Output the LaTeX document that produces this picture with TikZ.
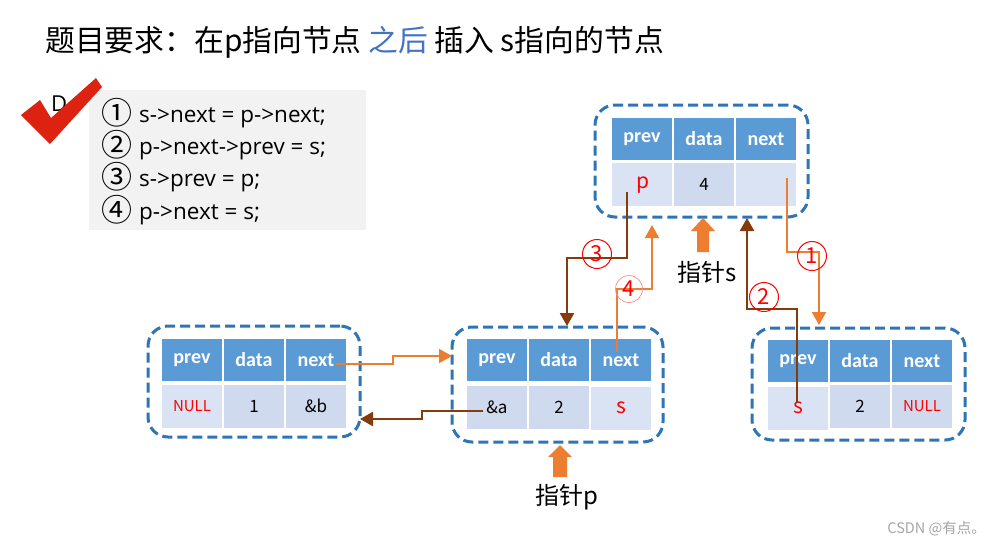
\documentclass[tikz,border=0pt]{standalone}
\usepackage{fontspec}
\setmainfont{Noto Sans CJK SC}
\newfontfamily\hdfont{Carlito}
\newfontfamily\codefont{Open Sans}
\newfontfamily\circfont{Noto Sans CJK SC}
\usetikzlibrary{arrows.meta,calc}
\definecolor{hblue}{HTML}{5B9BD5}
\definecolor{dblueA}{HTML}{DAE3F3}
\definecolor{dblueB}{HTML}{CFDAEE}
\definecolor{bord}{HTML}{2E75B6}
\definecolor{orng}{HTML}{ED7D31}
\definecolor{brwn}{HTML}{843C0C}
\definecolor{ckred}{HTML}{DD2211}
\definecolor{tblue}{HTML}{4472C4}
\definecolor{boxgray}{HTML}{F2F2F2}
\newcommand{\cnum}[1]{\raisebox{-1.5pt}{\circfont\fontsize{31}{31}\selectfont #1}}
\tikzset{
  hcell/.style={fill=hblue, minimum width=60pt, minimum height=42pt, inner sep=0pt, text=white, font=\hdfont\bfseries\fontsize{20}{20}\selectfont},
  dcellA/.style={fill=dblueA, minimum width=60pt, minimum height=43pt, inner sep=0pt, font=\fontsize{17}{17}\selectfont},
  dcellB/.style={dcellA, fill=dblueB},
  frame/.style={draw=bord, line width=3pt, dash pattern=on 10pt off 5pt, rounded corners=20pt, inner sep=0pt},
  oarrow/.style={draw=orng, line width=2pt, -{Triangle[length=13pt,width=14pt]}},
  barrow/.style={draw=brwn, line width=2.5pt, -{Triangle[length=13pt,width=14pt]}},
  numc/.style={circle, draw=red, line width=1pt, text=red, minimum size=29pt, inner sep=0pt, font=\fontsize{22}{22}\selectfont},
  numl/.style={numc, draw=red!45, line width=0.7pt, minimum size=27pt},
  blockar/.style={fill=orng},
  codeline/.style={anchor=west, inner sep=0pt, font=\codefont\fontsize{22.5}{23}\selectfont},
  ptrlabel/.style={font=\fontsize{24}{24}\selectfont, inner sep=0pt},
  redtxt/.style={text=red},
  nulltxt/.style={text=red, font=\fontsize{15}{15}\selectfont}
}
\begin{document}
\begin{tikzpicture}[x=1pt,y=-1pt]
\useasboundingbox[fill=white] (0,0) rectangle (999,547);

% title
\node[anchor=west, inner sep=0pt, font=\fontsize{29.8}{30}\selectfont] (title) at (45,42)
  {题目要求：在p指向节点 \textcolor{tblue}{之后} 插入 s指向的节点};

% code box
\node[fill=boxgray, minimum width=277pt, minimum height=140pt, anchor=north west, inner sep=0pt] (codebox) at (89,90) {};
\node[codeline] (c1) at (101,113) {\cnum{①}\hspace{7pt}s->next = p->next;};
\node[codeline] (c2) at (101,145) {\cnum{②}\hspace{7pt}p->next->prev = s;};
\node[codeline] (c3) at (101,177) {\cnum{③}\hspace{7pt}s->prev = p;};
\node[codeline] (c4) at (101,210) {\cnum{④}\hspace{7pt}p->next = s;};
\node[anchor=west, inner sep=0pt, font=\codefont\fontsize{22}{22}\selectfont] (dlab) at (51,104) {D.};
\fill[ckred] (21,115) -- (40,100) -- (51,118) -- (96,78) -- (102,87) -- (50,144) -- cycle;

% node s (top)
\node[frame, minimum width=213pt, minimum height=112pt] (sframe) at (701.5,161) {};
\node[hcell] (sh1) at (642,139) {prev};
\node[hcell] (sh2) at (704,139) {data};
\node[hcell] (sh3) at (766,139) {next};
\node[dcellA] (sd1) at (642,184) {};
\node[dcellB] (sd2) at (704,184) {4};
\node[dcellA] (sd3) at (766,184) {};
\node[redtxt, font=\fontsize{21}{21}\selectfont] (sp) at (643,185) {p};

% node a (left)
\node[frame, minimum width=212pt, minimum height=111pt] (aframe) at (254,381.5) {};
\node[hcell] (ah1) at (192,360) {prev};
\node[hcell] (ah2) at (254,360) {data};
\node[hcell] (ah3) at (316,360) {next};
\node[dcellA, nulltxt] (ad1) at (192,406) {NULL};
\node[dcellB] (ad2) at (254,406) {1};
\node[dcellB] (ad3) at (316,406) {\&b};

% node b (middle, p)
\node[frame, minimum width=211pt, minimum height=115pt] (bframe) at (557.5,384.5) {};
\node[hcell] (bh1) at (497,360) {prev};
\node[hcell] (bh2) at (559,360) {data};
\node[hcell] (bh3) at (621,360) {next};
\node[dcellB] (bd1) at (497,407) {\&a};
\node[dcellB] (bd2) at (559,407) {2};
\node[dcellA, redtxt, font=\fontsize{21}{21}\selectfont] (bd3) at (621,408) {s};

% node c (right)
\node[frame, minimum width=213pt, minimum height=112pt] (cframe) at (858.5,384) {};
\node[hcell] (ch1) at (798,361) {prev};
\node[hcell] (ch2) at (860,361) {data};
\node[hcell] (ch3) at (922,361) {next};
\node[dcellA, redtxt, font=\fontsize{21}{21}\selectfont] (cd1) at (798,408) {s};
\node[dcellB] (cd2) at (860,406) {2};
\node[dcellB, nulltxt] (cd3) at (922,406) {NULL};

% connectors a <-> b
\coordinate (a1s) at (336,364);
\coordinate (a1e) at (452,356);
\draw[oarrow] (a1s) -- (393,364) -- (393,356) -- (a1e);
\coordinate (a2s) at (483,411);
\coordinate (a2e) at (360,419);
\draw[barrow] (a2s) -- (422,411) -- (422,419) -- (a2e);

% step 3: s->prev = p
\coordinate (s3s) at (627,192);
\coordinate (s3e) at (567,326);
\draw[barrow] (s3s) -- (627,258) -- (567,258) -- (s3e);
\node[numc] (n3) at (597,254) {3};

% step 4: p->next = s
\coordinate (s4s) at (617,352);
\coordinate (s4e) at (652,225);
\draw[oarrow] (s4s) -- (617,289) -- (652,289) -- (s4e);
\node[numl] (n4) at (629,289) {4};

% step 1: s->next = p->next
\coordinate (s1s) at (787,178);
\coordinate (s1e) at (819,325);
\draw[oarrow] (s1s) -- (787,252) -- (819,252) -- (s1e);
\node[numc] (n1) at (812,256) {1};

% step 2: p->next->prev = s
\coordinate (s2s) at (797,403);
\coordinate (s2e) at (747,218);
\draw[barrow] (s2s) -- (797,309) -- (747,309) -- (s2e);
\node[numc] (n2) at (764,297) {2};

% pointer block arrows
\fill[blockar] (703,218) -- (715,231) -- (709,231) -- (709,252) -- (697,252) -- (697,231) -- (691,231) -- cycle;
\node[ptrlabel] (ps) at (707,272) {指针s};
\fill[blockar] (560,445) -- (572,457) -- (567,457) -- (567,477) -- (553,477) -- (553,457) -- (548,457) -- cycle;
\node[ptrlabel] (pp) at (567,497) {指针p};

% watermark
\node[anchor=east, inner sep=0pt, text=black!35, font=\fontsize{14.5}{14.5}\selectfont] (wm) at (986,529) {CSDN @有点。};
\end{tikzpicture}
\end{document}
